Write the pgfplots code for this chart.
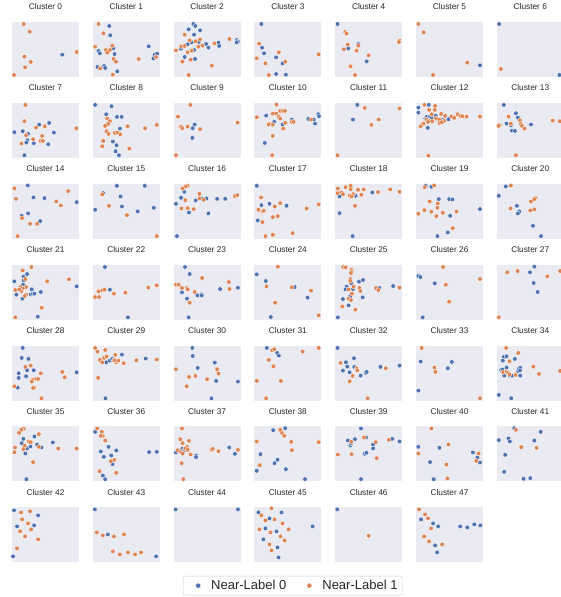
\documentclass[border=0pt]{standalone}
\usepackage{pgfplots}
\pgfplotsset{compat=1.18}
\usepackage{fontspec}
\setmainfont{Liberation Sans}
\definecolor{sbblue}{RGB}{76,114,176}
\definecolor{sborange}{RGB}{221,132,82}
\definecolor{sbbg}{RGB}{234,234,242}
\pgfplotsset{
  panel/.style={scale only axis, width=67pt, height=55pt,
    xmin=0, xmax=200, ymin=0, ymax=165,
    axis line style={draw=none}, xtick=\empty, ytick=\empty,
    axis background/.style={fill=sbbg}, clip=false, anchor=south west,
    title style={font=\fontsize{8.3}{9}\selectfont, color=black!85, anchor=base, at={(0.5,1)}, yshift=6pt, inner sep=0pt}},
  bpt/.style={only marks, mark=*, mark size=2.3pt, mark options={fill=sbblue, draw=white, line width=0.35pt}},
  opt/.style={only marks, mark=*, mark size=2.3pt, mark options={fill=sborange, draw=white, line width=0.35pt}},
}
\newcommand{\panel}[5]{%
\begin{axis}[panel, at={({12pt+80.8pt*#1},{520pt-80.9pt*#2})}, title={Cluster #3}]
\addplot[bpt] coordinates {#4};
\addplot[opt] coordinates {#5};
\end{axis}}
\begin{document}
\begin{tikzpicture}
\panel{0}{0}{0}{(150,67)}{(35,159)(53,136)(37,61)(56,45)(39,29)(6,6)(193,75)}
\panel{1}{0}{1}{(49,153)(52,125)(61,86)(17,78)(21,71)(65,69)(167,92)(185,67)(192,70)(181,56)(14,30)(34,33)(37,27)(73,17)}{(17,159)(32,131)(7,91)(58,94)(39,81)(51,81)(43,73)(62,54)(69,46)(137,54)(189,60)(22,26)(60,7)}
\panel{2}{0}{2}{(59,159)(65,153)(45,143)(79,140)(61,127)(54,104)(42,98)(75,105)(22,85)(61,81)(97,99)(104,88)(134,103)(136,93)(189,111)(192,106)(188,104)(33,60)(64,54)}{(33,127)(48,110)(79,113)(66,107)(23,92)(33,93)(7,80)(42,74)(54,79)(74,91)(86,94)(122,101)(167,114)(51,52)(26,46)(114,34)(45,6)}
\panel{3}{0}{3}{(21,159)(23,88)(29,71)(65,59)(65,9)(84,41)(94,7)}{(14,100)(7,56)(33,41)(73,74)(43,6)(192,68)(92,46)}
\panel{4}{0}{4}{(7,159)(69,99)(39,86)(94,47)}{(30,135)(34,130)(37,97)(69,94)(26,83)(64,79)(100,65)(46,32)(59,6)(192,109)(190,105)}
\panel{5}{0}{5}{(191,35)}{(7,159)(23,134)(153,43)(51,6)}
\panel{6}{0}{6}{(7,159)(187,6)}{(12,24)}
\panel{0}{1}{7}{(81,100)(111,105)(7,77)(32,80)(48,72)(125,76)(46,53)(43,46)(65,44)(108,41)(37,8)}{(40,159)(37,110)(72,91)(98,95)(42,68)(90,66)(63,56)(85,51)(92,51)(28,43)(192,89)}
\panel{1}{1}{8}{(7,159)(56,155)(40,131)(72,123)(86,123)(81,88)(60,49)(71,38)(68,20)(78,8)}{(43,118)(51,110)(46,102)(37,96)(41,80)(47,72)(66,75)(74,76)(82,71)(104,95)(156,89)(191,99)(31,51)(28,35)(109,28)}
\panel{2}{1}{9}{(63,100)(57,89)(56,60)}{(50,159)(13,124)(22,94)(26,89)(42,94)(79,86)(191,106)(7,8)}
\panel{3}{1}{10}{(35,127)(59,108)(31,45)(84,100)(112,115)(161,117)(177,115)(191,131)(193,125)(181,103)}{(66,160)(7,122)(55,133)(65,133)(73,124)(45,103)(43,100)(55,100)(55,66)(53,8)(77,141)(85,141)(91,141)(77,118)(92,105)(86,88)(111,108)(117,108)(169,115)}
\panel{4}{1}{11}{(66,159)(53,115)}{(88,150)(192,148)(130,115)(108,99)(7,8)}
\panel{5}{1}{12}{(7,151)(7,136)(38,159)(59,126)(28,118)(32,123)(40,122)(47,120)(74,114)(80,114)(97,116)(35,90)}{(25,159)(57,156)(56,144)(39,144)(47,131)(75,132)(87,126)(32,115)(39,111)(48,110)(36,108)(60,118)(69,115)(84,111)(70,105)(77,107)(106,124)(114,120)(124,131)(132,126)(138,125)(151,124)(191,124)(22,103)(14,95)(37,7)}
\panel{6}{1}{13}{(21,159)(57,134)(63,121)(29,103)(42,98)(102,100)(45,82)(54,81)}{(35,124)(69,113)(42,103)(9,98)(5,96)(72,102)(75,96)(83,88)(57,8)(167,112)(188,110)}
\panel{0}{2}{14}{(47,160)(64,124)(97,122)(193,110)(48,76)(29,69)(84,53)}{(7,151)(12,120)(168,143)(132,112)(146,100)(30,62)(54,45)(75,45)(17,8)}
\panel{1}{2}{15}{(72,159)(155,159)(31,137)(83,127)(87,97)(7,87)(182,93)(134,82)}{(28,133)(48,99)(102,71)(191,8)}
\panel{2}{2}{16}{(32,141)(22,123)(7,105)(46,79)(66,115)(83,121)(98,121)(130,120)(154,120)(104,76)(10,8)}{(42,159)(36,157)(27,151)(35,116)(23,91)(42,92)(60,89)(77,135)(77,121)(90,117)(183,128)(190,131)}
\panel{3}{2}{17}{(7,159)(21,101)(45,105)(10,55)(96,99)}{(20,124)(12,87)(24,82)(28,84)(61,97)(24,50)(55,65)(70,68)(33,8)(55,12)(77,107)(156,91)(192,103)(114,17)}
\panel{4}{2}{18}{(13,127)(46,154)(61,129)(111,139)(13,77)(52,8)}{(8,151)(7,137)(18,139)(23,134)(31,155)(46,159)(46,149)(54,134)(43,130)(49,127)(68,147)(78,132)(85,148)(128,140)(164,148)(192,141)(59,99)}
\panel{5}{2}{19}{(29,159)(46,156)(68,119)(99,119)(109,118)(102,69)(191,89)(95,19)(64,8)}{(26,155)(54,160)(41,112)(65,106)(64,93)(25,86)(7,75)(46,81)(80,78)(121,82)(61,68)(110,32)}
\panel{6}{2}{20}{(27,157)(6,129)(60,99)(67,82)(63,76)(108,39)(132,8)}{(42,160)(116,122)(112,119)(102,112)(41,91)(100,85)(112,88)}
\panel{0}{3}{21}{(45,137)(34,129)(35,118)(7,115)(33,105)(59,91)(13,75)(56,76)(62,78)(67,78)(86,83)(31,63)(193,100)(77,9)}{(32,148)(58,158)(40,122)(42,98)(26,98)(32,93)(10,89)(28,86)(22,91)(42,75)(38,71)(105,115)(170,121)(89,36)(10,7)}
\panel{1}{3}{22}{(36,158)(30,89)(51,90)(105,7)}{(17,85)(28,88)(35,90)(7,68)(19,68)(63,78)(97,81)(166,96)(191,103)}
\panel{2}{3}{23}{(34,158)(48,137)(25,82)(71,73)(83,76)(84,73)(40,63)(139,92)(192,96)(45,7)}{(85,125)(7,105)(15,105)(25,95)(39,95)(42,91)(63,83)(48,51)(165,113)(167,92)}
\panel{3}{3}{24}{(7,136)(34,116)(49,8)(120,98)(159,66)}{(36,100)(70,159)(62,51)(112,97)(169,87)(192,13)}
\panel{4}{3}{25}{(48,109)(71,114)(83,119)(34,99)(31,91)(53,92)(45,70)(23,62)(82,67)(40,43)(132,95)(173,101)(8,7)}{(24,158)(31,157)(48,150)(49,145)(47,140)(45,122)(45,116)(55,99)(40,91)(72,95)(75,86)(50,78)(40,63)(47,59)(21,40)(60,30)(122,95)(129,89)(192,96)}
\panel{5}{3}{26}{(7,131)(13,128)(56,109)(20,7)}{(81,158)(89,105)(191,122)(99,54)}
\panel{6}{3}{27}{(112,159)(99,142)(110,110)(122,83)}{(31,142)(62,146)(151,130)(6,7)(189,146)}
\panel{0}{4}{28}{(32,158)(29,128)(49,125)(45,91)(65,91)(20,82)(42,73)(20,68)(17,39)(193,85)}{(40,101)(56,105)(86,82)(62,63)(72,65)(78,65)(59,57)(67,39)(63,38)(7,43)(150,86)(157,70)(88,7)}
\panel{1}{4}{29}{(40,115)(51,120)(58,125)(87,138)(158,126)(38,7)}{(7,158)(14,147)(37,152)(21,122)(28,115)(34,128)(41,132)(63,121)(70,115)(66,121)(76,120)(67,137)(92,112)(130,121)(191,123)(16,68)}
\panel{2}{4}{30}{(56,158)(57,134)(123,114)(72,98)(127,59)(192,57)(113,7)}{(7,94)(130,94)(134,81)(65,74)(46,71)(100,64)(39,43)}
\panel{3}{4}{31}{(37,158)(68,143)(73,135)}{(53,151)(59,154)(43,122)(57,103)(7,59)(35,7)(144,147)(192,158)(79,59)}
\panel{4}{4}{32}{(7,158)(32,115)(56,127)(36,102)(23,90)(43,85)(57,101)(76,75)(91,83)(94,86)(135,101)(192,105)}{(16,113)(64,97)(66,91)(52,74)(43,58)(151,97)(97,7)}
\panel{5}{4}{33}{(14,117)(95,97)(107,116)(7,30)}{(17,158)(55,99)(58,86)(191,7)}
\panel{6}{4}{34}{(21,131)(29,133)(54,125)(18,120)(29,99)(13,92)(17,93)(22,75)(38,75)(46,75)(70,75)(65,95)(70,98)(64,88)(69,91)(6,17)(43,7)}{(28,158)(64,143)(38,118)(19,85)(29,87)(33,83)(38,79)(56,77)(109,102)(126,80)(189,89)}
\panel{0}{5}{35}{(34,128)(29,115)(45,99)(55,105)(40,84)(67,135)(75,111)(88,102)(122,117)(43,7)}{(35,158)(28,155)(21,146)(50,120)(56,118)(38,107)(34,97)(9,102)(7,88)(80,142)(80,104)(63,58)(138,99)(193,99)}
\panel{1}{5}{36}{(7,149)(47,104)(24,90)(70,93)(33,74)(55,78)(59,52)(168,88)(191,89)(30,18)(37,7)}{(13,159)(27,149)(30,137)(24,137)(37,123)(64,65)(54,61)(20,31)(70,26)}
\panel{2}{5}{37}{(26,98)(32,94)(7,87)(16,93)(67,78)(67,73)(166,102)(183,83)}{(25,159)(20,127)(46,122)(27,115)(40,104)(35,99)(42,95)(12,94)(22,89)(27,84)(51,81)(113,95)(117,98)(134,91)(192,95)(24,55)(29,7)}
\panel{3}{5}{38}{(56,154)(18,82)(60,55)(69,65)(7,32)(92,160)(94,37)(151,7)}{(7,120)(16,49)(82,146)(89,137)(77,155)(110,119)(112,94)(192,118)}
\panel{4}{5}{39}{(77,159)(92,132)(59,127)(38,123)(45,108)(47,114)(113,111)(113,99)(170,128)(192,120)(88,83)(93,86)(77,7)}{(86,132)(48,119)(121,118)(160,125)(8,81)(49,82)(124,70)}
\panel{5}{5}{40}{(7,104)(70,101)(42,58)(170,87)(191,57)(183,72)(53,7)}{(46,159)(97,111)(7,84)(91,51)(187,84)(180,62)(94,9)}
\panel{6}{5}{41}{(6,124)(52,160)(35,129)(39,120)(131,149)(112,123)(25,80)(22,29)(80,8)(100,10)}{(57,155)(73,103)(119,101)}
\panel{0}{6}{42}{(6,156)(78,141)(15,108)(66,111)(3,18)}{(27,150)(54,153)(30,129)(48,117)(24,93)(57,99)(39,78)(78,69)(15,42)}
\panel{1}{6}{43}{(6,159)(45,84)(189,18)}{(12,90)(30,81)(63,78)(93,84)(60,33)(81,24)(105,30)(126,24)(144,30)}
\panel{2}{6}{44}{(6,159)(192,159)}{}
\panel{3}{6}{45}{(12,150)(45,132)(81,150)(33,102)(66,93)(27,69)(69,45)(72,15)(174,108)}{(51,162)(21,141)(33,126)(60,129)(84,117)(15,99)(48,90)(78,78)(90,66)(45,54)(51,36)(102,99)}
\panel{4}{6}{46}{(6,159)}{(100,80)}
\panel{5}{6}{47}{(15,129)(51,117)(66,108)(132,108)(153,105)(174,114)(192,111)(57,51)(63,30)}{(9,159)(27,144)(36,132)(45,102)(24,78)(39,63)(78,54)}
\begin{axis}[at={(0pt,0pt)}, anchor=south west, scale only axis, width=560pt, height=597pt, hide axis,
  xmin=0, xmax=1, ymin=0, ymax=1, legend columns=2,
  legend image code/.code={\path[draw=none,fill=none] (-12pt,0pt) rectangle (11pt,0pt); \draw[mark repeat=1,#1] plot coordinates {(0pt,0pt)};},
  legend style={at={(0.523,0.0352)}, anchor=north, draw=black!20, fill=white, rounded corners=2pt,
    font=\fontsize{13}{15}\selectfont, text=black!85,
    /tikz/every even column/.append style={column sep=9pt}}]
\addlegendimage{only marks, mark=*, mark size=2.6pt, mark options={fill=sbblue, draw=white, line width=0.35pt}}
\addlegendentry{Near-Label 0}
\addlegendimage{only marks, mark=*, mark size=2.6pt, mark options={fill=sborange, draw=white, line width=0.35pt}}
\addlegendentry{Near-Label 1}
\end{axis}
\pgfresetboundingbox
\path (0pt,0pt) rectangle (560pt,597pt);
\end{tikzpicture}
\end{document}
